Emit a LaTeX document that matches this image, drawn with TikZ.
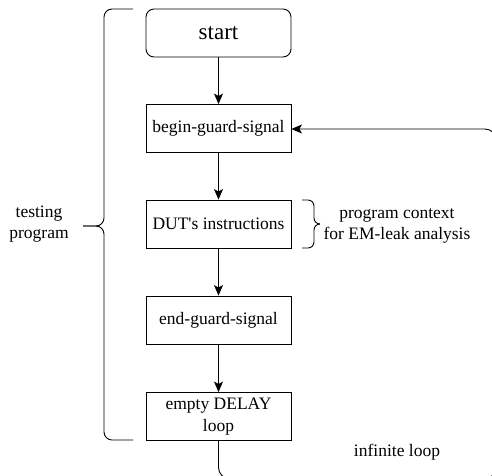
\documentclass[tikz,border=0pt]{standalone}
\usepackage{fontspec}
\setmainfont{Liberation Serif}
\newfontfamily\tnr{Liberation Serif}
\usetikzlibrary{arrows.meta}
\begin{document}
\begin{tikzpicture}[x=1pt,y=-1pt,
  box/.style={draw, line width=0.9pt, minimum width=145pt, minimum height=48pt, inner sep=0pt, align=center, font=\tnr\fontsize{17.5}{21.5}\selectfont},
  lbl/.style={inner sep=0pt, align=center, font=\tnr\fontsize{17.5}{21.5}\selectfont},
  arr/.style={line width=0.9pt, -{Stealth[length=10.5pt,width=9pt,inset=2.5pt]}},
  brace/.style={line width=0.9pt, rounded corners=8pt}]
\useasboundingbox (0,0) rectangle (492,475);
\clip (0,0) rectangle (492,475);
\node[box, rounded corners=8pt, font=\tnr\fontsize{23}{27}\selectfont] (start) at (218.5,33) {start};
\node[box] (begin) at (218.5,128.5) {begin-guard-signal};
\node[box] (dut) at (218.5,224) {DUT\textquotesingle s instructions};
\node[box] (endg) at (218.5,320) {end-guard-signal};
\node[box] (delay) at (218.5,416.5) {empty DELAY\\loop};
\draw[arr] (start) -- (begin);
\draw[arr] (begin) -- (dut);
\draw[arr] (dut) -- (endg);
\draw[arr] (endg) -- (delay);
% loop back
\coordinate (l1) at (218.5,478.5);
\coordinate (l2) at (496,478.5);
\coordinate (l3) at (496,129);
\draw[arr, rounded corners=11pt] (delay.south) -- (l1) -- (l2) -- (l3) -- (begin.east |- l3);
% left brace
\coordinate (ltip) at (83,226);
\draw[brace] (133,9) -- (104,9) -- (104,226) -- (ltip);
\draw[brace] (133,440) -- (104,440) -- (104,226) -- (ltip);
\node[lbl] (testing) at (39,224) {testing\\program};
% right brace
\coordinate (rtip) at (320,224);
\draw[line width=0.9pt, rounded corners=6pt] (302,200) -- (314,200) -- (314,224) -- (rtip);
\draw[line width=0.9pt, rounded corners=6pt] (302,248) -- (314,248) -- (314,224) -- (rtip);
\node[lbl] (ctx) at (397,226) {program context\\for EM-leak analysis};
\node[lbl] (inf) at (397,452) {infinite loop};
\end{tikzpicture}
\end{document}
